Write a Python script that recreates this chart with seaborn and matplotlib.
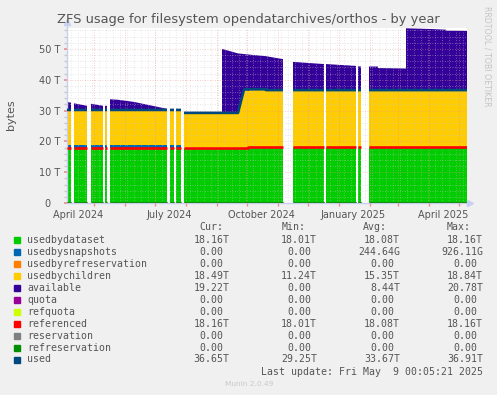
import numpy as np
import pandas as pd
import matplotlib
matplotlib.use("Agg")
import matplotlib.pyplot as plt
import matplotlib.dates as mdates
from matplotlib.patches import Rectangle
from matplotlib.ticker import MultipleLocator, FuncFormatter
import seaborn as sns

NAN = np.nan

# rrd breakpoints, values in TB; a NaN row marks a hole in the data
dates = [
    "2024-04-04", "2024-04-08", "2024-04-09",
    "2024-04-11", "2024-04-24", "2024-04-26",
    "2024-04-28", "2024-05-10", "2024-05-11",
    "2024-05-12", "2024-05-14", "2024-05-15",
    "2024-05-17", "2024-05-25", "2024-06-10", "2024-07-13", "2024-07-14",
    "2024-07-16", "2024-07-20", "2024-07-21",
    "2024-07-22", "2024-07-27", "2024-07-28",
    "2024-07-30", "2024-08-05", "2024-09-06", "2024-09-06", "2024-09-22",
    "2024-09-28", "2024-10-02", "2024-10-02", "2024-10-20", "2024-10-20",
    "2024-11-06", "2024-11-10",
    "2024-11-16", "2024-12-17", "2024-12-18",
    "2024-12-19", "2025-01-18", "2025-01-19",
    "2025-01-20", "2025-01-23", "2025-01-27",
    "2025-01-31", "2025-02-09", "2025-02-09", "2025-03-09", "2025-03-09",
    "2025-04-05", "2025-04-18", "2025-04-18", "2025-05-09",
]
usedbydataset = [
    18.01, 18.01, NAN,
    18.01, 18.01, NAN,
    18.01, 18.01, NAN,
    18.01, 18.01, NAN,
    18.01, 18.01, 18.01, 18.01, NAN,
    18.01, 18.01, NAN,
    18.01, 18.01, NAN,
    18.01, 18.01, 18.01, 18.01, 18.01,
    18.01, 18.01, 18.16, 18.16, 18.16,
    18.16, NAN,
    18.16, 18.16, NAN,
    18.16, 18.16, NAN,
    18.16, 18.16, NAN,
    18.16, 18.16, 18.16, 18.16, 18.16,
    18.16, 18.16, 18.16, 18.16,
]
usedbysnapshots = [
    0.90, 0.90, NAN,
    0.90, 0.90, NAN,
    0.90, 0.90, NAN,
    0.90, 0.90, NAN,
    0.90, 0.90, 0.90, 0.90, NAN,
    0.90, 0.90, NAN,
    0.90, 0.90, NAN,
    0.0, 0.0, 0.0, 0.0, 0.0,
    0.0, 0.0, 0.0, 0.0, 0.0,
    0.0, NAN,
    0.0, 0.0, NAN,
    0.0, 0.0, NAN,
    0.0, 0.0, NAN,
    0.0, 0.0, 0.0, 0.0, 0.0,
    0.0, 0.0, 0.0, 0.0,
]
usedbychildren = [
    11.30, 11.30, NAN,
    11.30, 11.30, NAN,
    11.30, 11.30, NAN,
    11.30, 11.30, NAN,
    11.30, 11.30, 11.30, 11.30, NAN,
    11.30, 11.30, NAN,
    11.30, 11.30, NAN,
    11.24, 11.24, 11.24, 11.24, 11.24,
    18.84, 18.84, 18.75, 18.75, 18.49,
    18.49, NAN,
    18.49, 18.49, NAN,
    18.49, 18.49, NAN,
    18.49, 18.49, NAN,
    18.49, 18.49, 18.49, 18.49, 18.49,
    18.49, 18.49, 18.49, 18.49,
]
available = [
    2.60, 2.35, NAN,
    2.15, 1.35, NAN,
    2.00, 1.35, NAN,
    1.35, 1.30, NAN,
    3.45, 3.30, 2.60, 0.35, NAN,
    0.30, 0.30, NAN,
    0.25, 0.20, NAN,
    0.35, 0.00, 0.00, 20.78, 19.30,
    11.50, 11.35, 11.30, 10.75, 11.00,
    10.05, NAN,
    9.15, 8.45, NAN,
    8.45, 7.85, NAN,
    7.70, 7.65, NAN,
    7.65, 7.65, 7.15, 7.00, 20.05,
    19.80, 19.60, 19.30, 19.22,
]

legend_names = ["usedbydataset", "usedbysnapshots", "usedbyrefreservation",
                "usedbychildren", "available", "quota", "refquota",
                "referenced", "reservation", "refreservation", "used"]
legend_colors = ["#00CC00", "#0066B3", "#FF8000", "#FFCC00", "#330099",
                 "#990099", "#CCFF00", "#FF0000", "#808080", "#008F00",
                 "#00487D"]
cur_vals = ["18.16T", "0.00", "0.00", "18.49T", "19.22T", "0.00", "0.00",
            "18.16T", "0.00", "0.00", "36.65T"]
min_vals = ["18.01T", "0.00", "0.00", "11.24T", "0.00", "0.00", "0.00",
            "18.01T", "0.00", "0.00", "29.25T"]
avg_vals = ["18.08T", "244.64G", "0.00", "15.35T", "8.44T", "0.00", "0.00",
            "18.08T", "0.00", "0.00", "33.67T"]
max_vals = ["18.16T", "926.11G", "0.00", "18.84T", "20.78T", "0.00", "0.00",
            "18.16T", "0.00", "0.00", "36.91T"]

W, H = 497, 395
TEXT = "#555555"
MONO = "DejaVu Sans Mono"

sns.set_theme(style="white")
plt.rcParams["font.family"] = ["DejaVu Sans"]

df = pd.DataFrame({
    "date": pd.to_datetime(dates),
    "dataset": usedbydataset,
    "snapshots": usedbysnapshots,
    "children": usedbychildren,
    "available": available,
})
df["refres"] = df["dataset"] * 0.0
df["s1"] = df["dataset"]
df["s2"] = df["s1"] + df["snapshots"]
df["s3"] = df["s2"] + df["refres"]
df["s4"] = df["s3"] + df["children"]
df["s5"] = df["s4"] + df["available"]
df["used"] = df["dataset"] + df["snapshots"] + df["children"]
df["zero"] = df["dataset"] * 0.0

fig = plt.figure(figsize=(W / 100, H / 100), dpi=100, facecolor="#F0F0F0")
ax = fig.add_axes([67 / W, (H - 203) / H, 400 / W, 175 / H])
ax.set_facecolor("white")

x = df["date"]
ax.fill_between(x, 0, df["s1"], color=legend_colors[0], lw=0, zorder=1)
ax.fill_between(x, df["s1"], df["s2"], color=legend_colors[1], lw=0, zorder=1)
ax.fill_between(x, df["s2"], df["s3"], color=legend_colors[2], lw=0, zorder=1)
ax.fill_between(x, df["s3"], df["s4"], color=legend_colors[3], lw=0, zorder=1)
ax.fill_between(x, df["s4"], df["s5"], color=legend_colors[4], lw=0, zorder=1)

# lines: quota, refquota, referenced, reservation, refreservation, used
line_series = ["zero", "zero", "dataset", "zero", "zero", "used"]
for name, col in zip(line_series, legend_colors[5:]):
    ax.plot(x, df[name], color=col, lw=1.9, zorder=4, solid_capstyle="butt")

start, end = pd.Timestamp("2024-04-04"), pd.Timestamp("2025-05-09")
ax.set_xlim(start, end)
ax.set_ylim(0, 56.8)

# grid (drawn above the areas, like rrdtool)
for d in mdates.WeekdayLocator(byweekday=mdates.MO).tick_values(start, end):
    ax.axvline(d, color="#c8c8c8", lw=0.6, ls=(0, (1, 2)), zorder=3, alpha=0.55)
for d in mdates.MonthLocator().tick_values(start, end):
    ax.axvline(d, color="#e89090", lw=0.6, ls=(0, (1, 2)), zorder=3, alpha=0.65)
for v in np.arange(2, 57, 2):
    c = "#e89090" if v % 10 == 0 else "#c8c8c8"
    ax.axhline(v, color=c, lw=0.6, ls=(0, (1, 2)), zorder=3, alpha=0.6)

ax.xaxis.set_major_locator(mdates.MonthLocator(bymonth=(1, 4, 7, 10), bymonthday=15))
ax.xaxis.set_major_formatter(mdates.DateFormatter("%B %Y"))
ax.xaxis.set_minor_locator(mdates.MonthLocator())
ax.yaxis.set_major_locator(MultipleLocator(10))
ax.yaxis.set_minor_locator(MultipleLocator(2))
ax.yaxis.set_major_formatter(FuncFormatter(lambda v, p: "0   " if v == 0 else f"{int(v)} T"))
ax.tick_params(axis="x", which="major", length=0, pad=5, labelsize=7, labelcolor=TEXT)
ax.tick_params(axis="x", which="minor", length=2, color="#e89090", direction="out")
ax.tick_params(axis="y", which="major", length=2, color="#e89090", pad=3,
               labelsize=7, labelcolor=TEXT, direction="out")
ax.tick_params(axis="y", which="minor", length=2, color="#c8c8c8", direction="out")
ax.tick_params(bottom=True, left=True, which="both")

for s in ["top", "right"]:
    ax.spines[s].set_visible(False)
for s in ["left", "bottom"]:
    ax.spines[s].set_color("#c8d0f0")
    ax.spines[s].set_linewidth(1.0)
ax.spines["left"].set_bounds(0, 58.5)
ax.spines["bottom"].set_zorder(0)
ax.plot([0], [1.035], marker="^", ms=4, color="#c8d0f0", transform=ax.transAxes, clip_on=False)
ax.plot([1.0075], [0], marker=">", ms=4, color="#c8d0f0", transform=ax.transAxes, clip_on=False)

# titles and side texts
fig.text(0.5, 1 - 19 / H, "ZFS usage for filesystem opendatarchives/orthos - by year",
         ha="center", va="center", fontsize=9.4, color=TEXT)
fig.text(11 / W, 1 - 115 / H, "bytes", rotation=90, ha="center", va="center",
         fontsize=8, color=TEXT)
fig.text(487 / W, 1 - 56 / H, "RRDTOOL / TOBI OETIKER", rotation=270, ha="center",
         va="center", fontsize=5.7, color="#c4c4c4")

# legend table
def fy(py):
    return 1 - py / H

hdr_y = 227
for lbl, px in zip(["Cur:", "Min:", "Avg:", "Max:"], [199, 282, 363, 447]):
    fig.text(px / W, fy(hdr_y), lbl, ha="left", va="center", fontsize=7.15,
             family=MONO, color=TEXT)

col_right = [229.5, 317, 400, 483]
char_w = 5.97
for i, name in enumerate(legend_names):
    py = 240 + 11.95 * i
    fig.patches.append(Rectangle((14 / W, fy(py + 3)), 6 / W, 6 / H,
                                 transform=fig.transFigure, color=legend_colors[i]))
    fig.text(27 / W, fy(py), name, ha="left", va="center", fontsize=7.15,
             family=MONO, color=TEXT)
    for vals, xr in zip([cur_vals, min_vals, avg_vals, max_vals], col_right):
        v = vals[i]
        off = 0 if v[-1].isalpha() else char_w
        fig.text((xr - off) / W, fy(py), v, ha="right", va="center",
                 fontsize=7.15, family=MONO, color=TEXT)

fig.text(483 / W, fy(371.7), "Last update: Fri May  9 00:05:21 2025", ha="right",
         va="center", fontsize=7.15, family=MONO, color=TEXT)
fig.text(249 / W, fy(383.5), "Munin 2.0.49", ha="center", va="center",
         fontsize=5.3, color="#c8c8c8")

fig.savefig("out.png", dpi=100, facecolor=fig.get_facecolor())
